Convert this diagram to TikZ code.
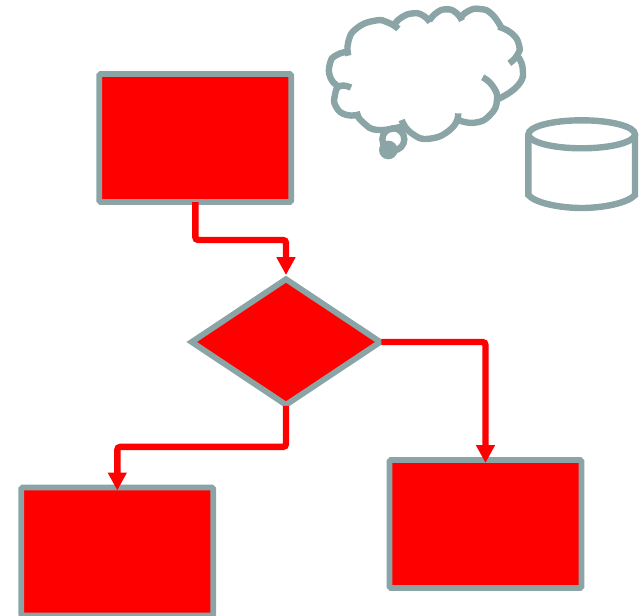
\documentclass[tikz,border=0pt]{standalone}
\usetikzlibrary{
        arrows.meta,
        shapes.geometric
    }
\definecolor{slategrey}{HTML}{8BA5A7}
\tikzset{
    procbox/.style={rectangle,draw=slategrey,fill=red,line width=5.8pt,rounded corners=1.5pt,
        inner sep=0pt,outer sep=0pt,minimum width=192pt,minimum height=128pt},
    decision/.style={diamond,draw=slategrey,fill=red,line width=5.8pt,aspect=1.5,
        inner sep=0pt,minimum width=191pt,minimum height=128pt},
    flow/.style={draw=red,line width=6.4pt,rounded corners=3pt,-{Triangle[width=18pt,length=18pt]}},
    outline/.style={draw=slategrey,line width=6.4pt}
}
\begin{document}
\begin{tikzpicture}[x=1pt,y=-1pt]
    \useasboundingbox (0,0) rectangle (643,616);
    \node[procbox]  (start)  at (195.3,138)   {};
    \node[decision] (choice) at (286,342)     {};
    \node[procbox]  (left)   at (117.3,551.5) {};
    \node[procbox]  (right)  at (485.5,524)   {};
    \path[flow]
        (start.south) -- ++(0,38) -| (choice.north);
    \path[flow,shorten <=-3pt]
        (choice.east) -| ([yshift=-3pt]right.north);
    \path[flow,shorten <=-3pt]
        (choice.south) -- ++(0,38) -| ([yshift=-3pt]left.north);
    % thought bubble, traced lobe by lobe
    \begin{scope}[shift={(320,0)},x=0.3333pt,y=-0.3333pt]
        \draw[outline] plot[smooth,tension=0.9] coordinates {(85,167) (85,125) (110,85) (165,62) (205,68) (235,87)};
        \draw[outline] plot[smooth,tension=0.9] coordinates {(222,75) (245,52) (280,40) (310,47) (330,67)};
        \draw[outline] plot[smooth,tension=0.9] coordinates {(328,62) (350,38) (380,28) (408,38) (426,62)};
        \draw[outline] plot[smooth,tension=0.9] coordinates {(420,55) (445,33) (480,27) (515,42) (545,85)};
        \draw[outline] plot[smooth,tension=0.9] coordinates {(535,80) (575,100) (597,135) (592,165) (568,190)};
        \draw[outline] plot[smooth,tension=0.9] coordinates {(590,165) (608,205) (595,255) (535,297)};
        \draw[outline] plot[smooth,tension=0.9] coordinates {(488,232) (518,258) (531,300) (510,345) (465,368) (415,360)};
        \draw[outline] plot[smooth,tension=0.9] coordinates {(415,340) (395,385) (330,416) (275,400) (245,360)};
        \draw[outline] plot[smooth,tension=0.9] coordinates {(250,378) (175,390) (130,368) (108,338)};
        \draw[outline] plot[smooth,tension=0.9] coordinates {(122,342) (80,345) (48,320) (45,285) (60,258) (93,263)};
        \draw[outline] plot[smooth,tension=0.9] coordinates {(60,262) (32,235) (30,190) (50,165) (85,155)};
        \draw[outline] (220,418) circle (33);
        \fill[slategrey] (205,450) circle (28);
    \end{scope}
    % storage drum
    \draw[outline] (581.7,134.3) ellipse [x radius=53.3,y radius=14];
    \draw[outline] (528.4,134.3) -- (528.4,195)
        .. controls (535,203) and (560,208) .. (581.7,208)
        .. controls (603,208) and (628,203) .. (635,195) -- (635,134.3);
\end{tikzpicture}
\end{document}
